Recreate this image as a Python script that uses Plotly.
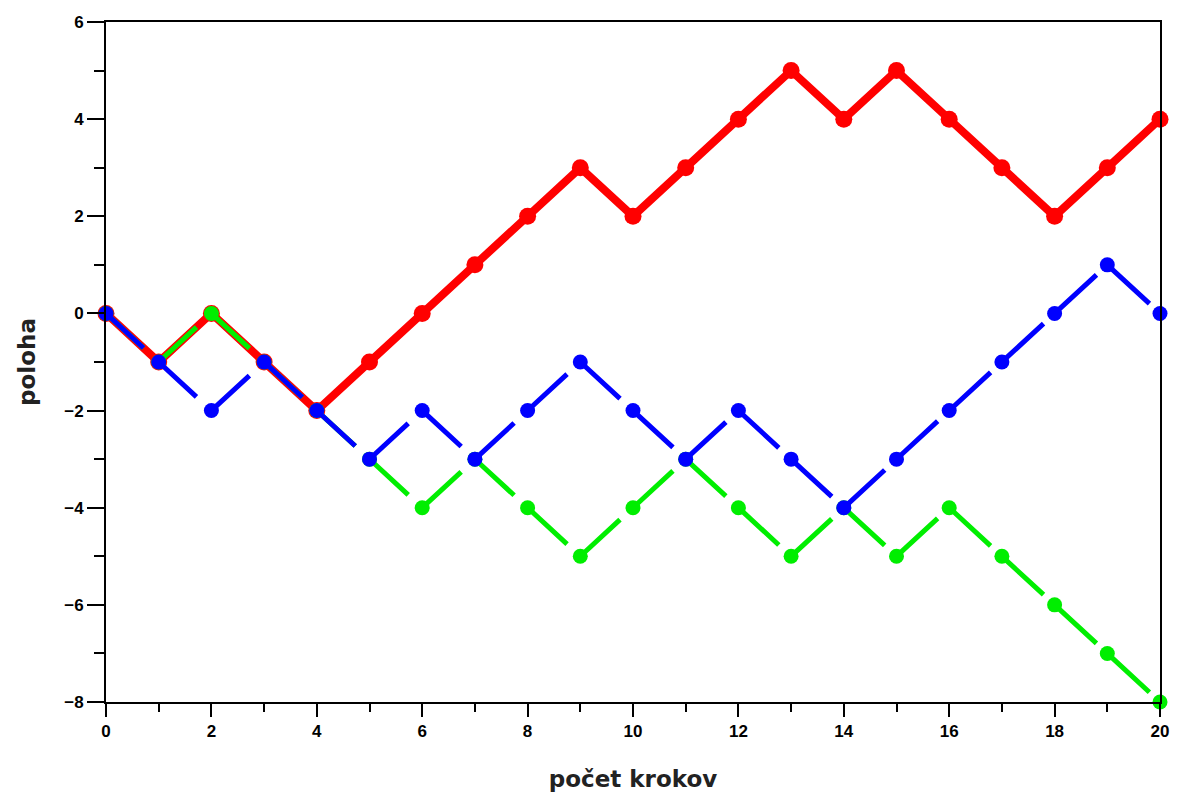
import plotly.graph_objects as go

steps = list(range(21))
red = [0, -1, 0, -1, -2, -1, 0, 1, 2, 3, 2, 3, 4, 5, 4, 5, 4, 3, 2, 3, 4]
green = [0, -1, 0, -1, -2, -3, -4, -3, -4, -5, -4, -3, -4, -5, -4, -5, -4, -5, -6, -7, -8]
blue = [0, -1, -2, -1, -2, -3, -2, -3, -2, -1, -2, -3, -2, -3, -4, -3, -2, -1, 0, 1, 0]

DASH = "51px,21px"

fig = go.Figure()
fig.add_trace(go.Scatter(x=steps, y=red, mode="lines+markers",
                         line=dict(color="#ff0000", width=8),
                         marker=dict(color="#ff0000", size=17), cliponaxis=False))
fig.add_trace(go.Scatter(x=steps, y=green, mode="lines+markers",
                         line=dict(color="#00ee00", width=5, dash=DASH),
                         marker=dict(color="#00ee00", size=15), cliponaxis=False))
fig.add_trace(go.Scatter(x=steps, y=blue, mode="lines+markers",
                         line=dict(color="#0000ff", width=5, dash=DASH),
                         marker=dict(color="#0000ff", size=15), cliponaxis=False))

axis_common = dict(showgrid=False, zeroline=False, showline=True, linecolor="black",
                   linewidth=2, mirror=True, ticks="outside", tickcolor="black",
                   tickwidth=2,
                   tickfont=dict(family="Liberation Sans", size=17, color="black", weight="bold"))

fig.update_xaxes(range=[0, 20], dtick=2, tick0=0, ticklen=13,
                 minor=dict(dtick=1, ticks="outside", ticklen=8, tickcolor="black", tickwidth=2),
                 title=dict(text="počet krokov", standoff=30,
                            font=dict(family="DejaVu Sans", size=23, color="#222", weight="bold")),
                 **axis_common)
fig.update_yaxes(range=[-8, 6], dtick=2, tick0=0, ticklen=17,
                 minor=dict(dtick=1, ticks="outside", ticklen=10, tickcolor="black", tickwidth=2),
                 title=dict(text="poloha", standoff=22,
                            font=dict(family="DejaVu Sans", size=23, color="#222", weight="bold")),
                 **axis_common)

fig.update_layout(width=1177, height=796, showlegend=False,
                  paper_bgcolor="white", plot_bgcolor="white",
                  margin=dict(l=106, r=8, t=22, b=89))

post = (
    "document.documentElement.style.margin='0';"
    "document.documentElement.style.overflow='hidden';"
    "document.body.style.margin='0';"
    "document.body.style.overflow='hidden';"
)
fig.write_html("out.html", config={"displayModeBar": False}, post_script=post)
